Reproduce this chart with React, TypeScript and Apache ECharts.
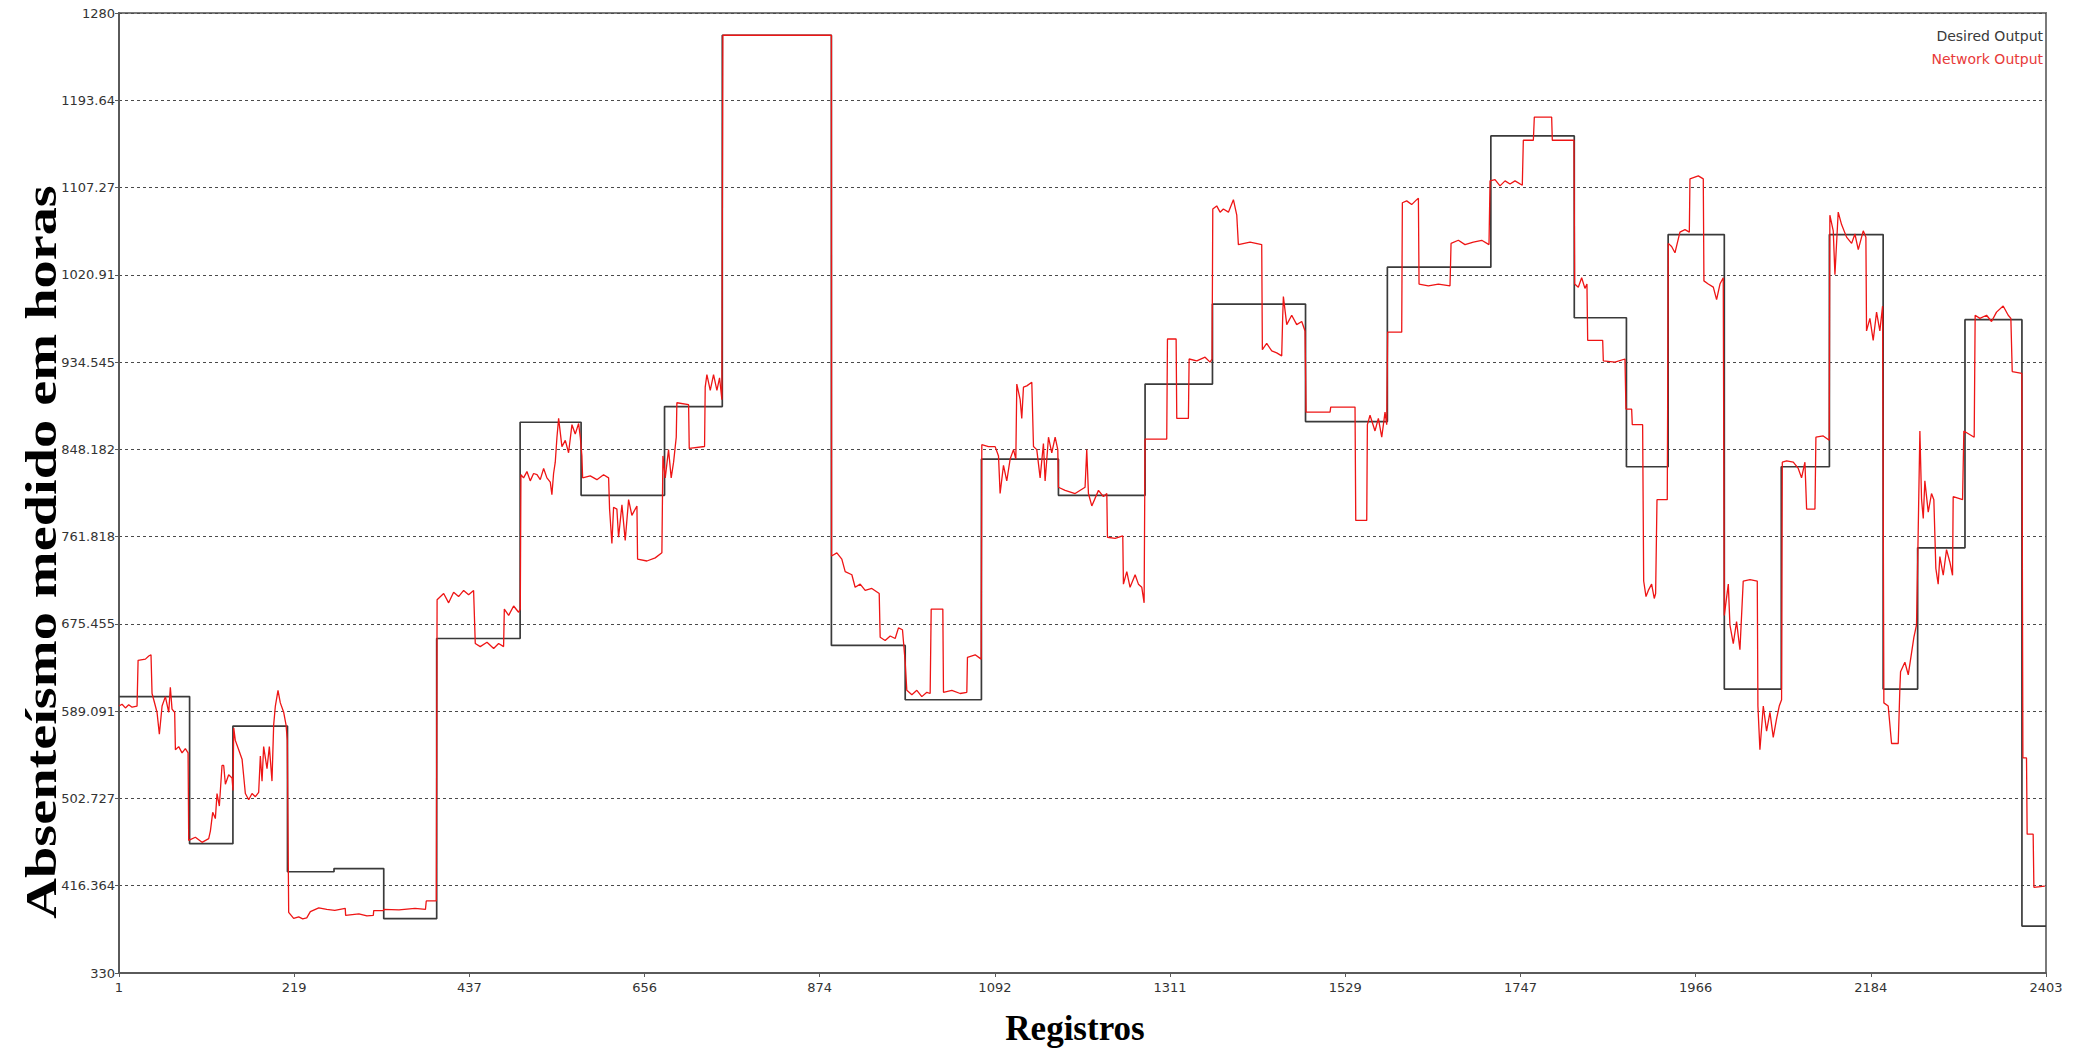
import { useEffect, useRef } from "react";
import * as echarts from "echarts";

// Axis tick labels (Registros on x, hours on y)
const xTickLabels = ["1", "219", "437", "656", "874", "1092", "1311", "1529", "1747", "1966", "2184", "2403"];
const yTickLabels = [
  "330", "416.364", "502.727", "589.091", "675.455", "761.818",
  "848.182", "934.545", "1020.91", "1107.27", "1193.64", "1280",
];
const xRange = [1, 2403];
const yRange = [330, 1280];

// Desired output: each level holds from its record until the next one
const desiredOutput: [number, number][] = [
  [1, 603.5], [89, 458], [143, 574.4], [211, 430.2], [269, 433.3], [331, 383.8],
  [397, 661], [501, 875], [577, 802.7], [681, 890.5], [753, 1258], [889, 654.2],
  [981, 600.4], [1076, 838.6], [1172, 802.7], [1280, 912.8], [1364, 992],
  [1480, 875.7], [1582, 1028.5], [1711, 1158.4], [1815, 978.4], [1880, 831],
  [1932, 1060.7], [2002, 611], [2073, 831], [2133, 1060.7], [2200, 611],
  [2243, 750.7], [2302, 976.5], [2373, 376.4], [2403, 376.4],
];

// Network output trace [record, hours]
const networkOutput: [number, number][] = [
  [1, 594.2], [4.8, 596], [9, 592.3], [13.1, 595.4], [17.3, 593], [23.5, 594.2],
  [24.8, 639.4], [33.9, 640.6], [38.1, 643.7], [40.9, 644.9],
  [42.2, 606.6], [44.3, 600.4], [48.4, 588], [51.3, 566.3], [54.7, 594.2], [58.8, 603.5],
  [63, 588], [65, 612.7], [67.1, 591.1], [70.4, 588],
  [71.3, 550.9], [75.4, 554], [79.6, 547.8], [83.7, 552.1], [87.1, 547.8],
  [87.9, 461.2], [96.2, 464.3], [104.5, 459.3], [112.8, 463], [114.9, 470.4], [117.8, 489],
  [121.1, 482.8], [123.2, 507.6], [126.1, 495.2], [129.4, 535.4], [131.5, 535.4],
  [133.6, 516.8], [137.7, 526.1], [141.9, 523], [143.1, 510.7],
  [144, 572.5], [146, 560.2], [150.2, 550.9], [154.4, 541.6], [158.5, 507.6], [162.7, 501.4],
  [166.8, 507.6], [171, 504.5], [175.1, 508.8], [177.2, 544.7], [179.3, 519.9], [181.3, 554],
  [185.5, 532.3], [188.4, 554], [191.7, 519.9], [193.8, 575.6], [195.9, 594.2], [199.2, 609.6],
  [202.1, 597.3], [206.3, 588], [209.2, 575.6], [210.8, 560.2],
  [212.5, 390], [218.7, 384], [225, 385.5], [230, 383.5], [235, 384.5], [239.5, 390.7],
  [250, 394.5], [260, 393], [270, 392], [283, 394], [283.5, 387], [300, 388.5], [310, 386.5],
  [318, 387], [318.5, 391.7], [330.5, 391.7], [331, 393], [350, 392.5], [370, 394], [383, 393],
  [384, 401.3], [396.5, 401.3],
  [397.5, 699.4], [405.7, 705.6], [411.9, 696.3], [418.1, 706.8], [424.3, 702.5], [430.6, 708.6],
  [436.8, 704.3], [443, 708.6],
  [445.1, 656], [451.3, 653], [459.7, 657.3], [468, 651.1], [474.2, 656], [480.4, 653],
  [481.3, 690.1], [486.7, 683.9], [492.9, 693.2], [499.1, 687], [501.2, 690.1],
  [502, 823.1], [505.3, 820], [509.5, 826.2], [513.6, 817], [517.8, 824.3], [522, 823.1],
  [526.1, 818.2], [530.3, 829.3], [534.4, 820], [538.6, 815.7], [540.6, 803.3], [542.7, 824.3],
  [544.8, 835.5], [546.9, 860.2], [549, 878.8], [553.1, 850.9], [557.3, 857.1], [561.4, 844.8],
  [565.6, 872.6], [569.7, 863.3], [573.9, 873.8], [576, 860.2], [578, 841.7],
  [578.9, 820], [588.4, 821.9], [596.7, 818.2], [605, 823.1], [611.3, 820],
  [612.5, 789.1], [615.4, 755], [617.5, 790.9], [621.6, 789.1], [623.7, 761.2], [627.9, 793.4],
  [632, 758.1], [636.2, 798.4], [640.3, 782.9], [646.6, 792.2],
  [647.4, 739.6], [659, 737.7], [669.4, 740.8], [677.7, 745.8],
  [679, 841.7], [681.9, 820], [686, 847.9], [689.3, 820], [692.3, 835.5], [695.6, 860.2],
  [696.4, 894.3], [711, 892.4], [711.8, 849.1], [730.9, 851],
  [731.7, 909.7], [733.8, 922.1], [738, 906.6], [742.1, 922.1], [746.3, 906.6], [749.6, 919],
  [752.5, 897.3], [753.7, 1258], [889, 1258],
  [889.2, 742.7], [895.8, 745.8], [902, 739.6], [906.2, 727.2], [914.5, 724.1], [918.6, 711.7],
  [924.9, 714.8], [931.1, 708.6], [939.4, 710.5], [948.6, 705.5],
  [949.8, 662.2], [956, 659.1], [962.3, 663.5], [968.5, 661], [972.6, 671.5], [977.6, 669.7],
  [981, 637.5], [983, 609.7], [989.3, 605.3], [995.5, 609.7], [1001.7, 603.5], [1008, 607.8],
  [1012.1, 606.6], [1013.4, 690.1], [1027.9, 690.1], [1028.7, 607.8], [1039.1, 609.7],
  [1049.5, 606.6], [1057.8, 607.8], [1058.6, 642.4], [1068.2, 644.9], [1075.7, 640.6],
  [1076.5, 852.8], [1084.8, 850.9], [1093.1, 850.9], [1097.3, 841.7], [1099.3, 804.5],
  [1103.5, 832.4], [1107.6, 816.9], [1111.8, 838.6], [1116, 847.9], [1118.9, 838.6],
  [1120.1, 912.8], [1124.3, 897.3], [1126.3, 878.8], [1128.4, 909.7], [1132.6, 911], [1138.8, 914.7],
  [1140.9, 851], [1145, 847.9], [1149.2, 820], [1153.3, 854], [1155.4, 816.9], [1159.6, 860.2],
  [1163.7, 844.8], [1167.9, 860.2], [1171.2, 847.9],
  [1172, 810.7], [1180.3, 807.6], [1192.8, 804.5], [1205.2, 810.7], [1207.3, 847.9],
  [1209.4, 804.5], [1213.6, 792.2], [1221.9, 807.6], [1228.1, 801.4], [1232.3, 804.5],
  [1233.1, 761.2], [1242.7, 760], [1252.2, 762.5],
  [1253, 714.8], [1257.2, 727.2], [1261.3, 711.7], [1267.6, 724.1], [1271.7, 714.8],
  [1275.9, 711.7], [1278.8, 696.3],
  [1280, 858.4], [1307, 858.4], [1307.9, 957.4], [1318.7, 957.4], [1319.5, 878.8], [1334, 878.8],
  [1334.9, 937.6], [1344.4, 935.7], [1354.8, 939.4], [1361, 934.5], [1363.5, 937.6],
  [1364.4, 1086], [1369.3, 1089.1], [1373.5, 1082.9], [1377.6, 1086], [1383.9, 1082.9],
  [1390.1, 1095.3], [1394.3, 1079.9],
  [1396.3, 1050.8], [1410.9, 1053.3], [1425.4, 1050.8],
  [1426.2, 946.8], [1431.6, 953], [1437.9, 945.6], [1444.1, 943.7], [1450.3, 940.7],
  [1451.6, 980.9], [1452.4, 999.4], [1456.6, 971.6], [1462.8, 980.9], [1469, 971.6],
  [1475.3, 974.7], [1479.4, 965.4],
  [1480.7, 885], [1510.6, 885], [1511.4, 890], [1541.7, 890], [1542.6, 777.9], [1556.3, 777.9],
  [1557.1, 872.6], [1560.4, 881.9], [1566.6, 866.4], [1570.8, 878.8], [1575, 860.2],
  [1579.1, 885], [1581.2, 872.6],
  [1582.4, 964.2], [1599.9, 964.2], [1600.7, 1092.2], [1606.1, 1094.1], [1612.3, 1090.4],
  [1618.6, 1095.3], [1620.7, 1096.6],
  [1621.5, 1011.8], [1633.1, 1010], [1645.6, 1011.8], [1660.1, 1010],
  [1661.4, 1052], [1670.5, 1055.1], [1678.8, 1050.8], [1689.2, 1053.3], [1699.6, 1055.1],
  [1708.7, 1050.8],
  [1710, 1113.9], [1716.2, 1115.1], [1722.4, 1108.9], [1728.7, 1113.9], [1734.9, 1110.8],
  [1741.1, 1113.9], [1750.2, 1109.6],
  [1751.5, 1154.1], [1764, 1154.1], [1765.2, 1177], [1786.8, 1177], [1787.6, 1154.1],
  [1814.6, 1154.1],
  [1815.5, 1011.8], [1820, 1008.7], [1824.2, 1018], [1828.3, 1007.5], [1830.8, 1011.8],
  [1831.7, 956.1], [1850.4, 956.1], [1851.2, 935.7], [1865.7, 934.5], [1878.2, 937.6],
  [1879.4, 888.1], [1886.5, 888.1], [1887.3, 872.6], [1900.2, 872.6],
  [1901.5, 717.9], [1904.4, 702.5], [1907.3, 708.6], [1911.4, 714.8], [1914.7, 700.6],
  [1916.4, 705.5], [1918.1, 798.4], [1930.9, 798.4],
  [1932.2, 1052], [1936.3, 1048.9], [1940.5, 1042.7], [1946.7, 1063.1], [1953, 1065.6],
  [1958.4, 1063.1], [1959.2, 1115.8], [1969.6, 1118.8], [1975.8, 1115.8],
  [1976.6, 1014.9], [1982, 1011.8], [1988.3, 1008.7], [1992.4, 996.4], [1996.6, 1011.8],
  [2000.7, 1018],
  [2002, 683.9], [2007, 714.8], [2009, 674.6], [2013.2, 656], [2017.3, 677.7], [2021.5, 649.9],
  [2025.6, 717.9], [2034, 719.2], [2043.1, 717.9],
  [2043.9, 594.2], [2046.4, 550.9], [2050.6, 594.2], [2054.7, 569.4], [2058.9, 588],
  [2063, 563.2], [2067.2, 581.8], [2070.5, 594.2], [2073.4, 600.4],
  [2074.3, 835.5], [2079.7, 836.7], [2088, 835.5], [2094.2, 829.3], [2098.3, 820], [2102.5, 835.5],
  [2104.6, 789.1], [2115, 789.1], [2116.2, 860.2], [2125.3, 861.5], [2132.8, 857.1],
  [2133.6, 1079.9], [2137.8, 1064.4], [2139.9, 1021.1], [2144, 1083], [2148.2, 1070.6],
  [2154.4, 1058.2], [2160.7, 1052], [2164.8, 1061.3], [2169, 1045.8], [2175.2, 1064.4],
  [2178.5, 1058.2],
  [2179.3, 965.4], [2183.5, 977.8], [2187.6, 956.1], [2191.8, 984], [2195.9, 965.4],
  [2199.3, 990.1],
  [2200.9, 597.3], [2206.3, 594.2], [2210.5, 557.1], [2218.8, 557.1], [2220.9, 612.7],
  [2221.7, 628.2], [2227.1, 637.5], [2231.3, 625.1], [2235.4, 646.8], [2238.3, 662.2],
  [2241.6, 674.6], [2243.7, 767.4], [2245.8, 866.4], [2247.9, 798.4], [2250, 779.8],
  [2252, 817], [2256.2, 786], [2260.3, 804.5], [2263.2, 798.4],
  [2265.7, 730.3], [2268.6, 714.8], [2270.7, 742.1], [2274.9, 723.6], [2279, 748.9],
  [2283.2, 736.5], [2286.5, 723.6],
  [2287.3, 801.4], [2299, 798.4], [2300.6, 866.4], [2313.5, 860.2],
  [2314.7, 980.9], [2320.6, 977.8], [2328.9, 980.9], [2335.1, 974.7], [2341.3, 984],
  [2349.6, 990.1], [2355.9, 980.9], [2359.2, 977.8],
  [2360.9, 925.2], [2372.9, 923.3],
  [2374.2, 542.8], [2378.7, 542.8], [2379.5, 467.4], [2387, 467.4], [2387.9, 414.8],
  [2401.6, 416],
];

const labelFont = "DejaVu Sans";
const titleFont = "'Liberation Serif', 'Times New Roman', serif";

export default function App() {
  const ref = useRef<HTMLDivElement>(null);

  useEffect(() => {
    const chart = echarts.init(ref.current!, null, { renderer: "svg" });
    const xStep = (xRange[1] - xRange[0]) / (xTickLabels.length - 1);
    const yStep = (yRange[1] - yRange[0]) / (yTickLabels.length - 1);

    chart.setOption({
      animation: false,
      backgroundColor: "#ffffff",
      grid: {
        left: 119,
        right: 40,
        top: 13,
        bottom: 79,
        show: true,
        borderColor: "#7a7a7a",
        borderWidth: 2,
        backgroundColor: "transparent",
      },
      legend: {
        orient: "vertical",
        right: 33,
        top: 24,
        align: "right",
        icon: "none",
        itemWidth: 0,
        itemHeight: 14,
        itemGap: 9,
        textStyle: { fontFamily: labelFont, fontSize: 14 },
        data: [
          { name: "Desired Output", textStyle: { color: "#3a3a3a" } },
          { name: "Network Output", textStyle: { color: "#e83a3a" } },
        ],
      },
      xAxis: {
        type: "value",
        min: xRange[0],
        max: xRange[1],
        interval: xStep,
        axisLine: { show: true, lineStyle: { color: "#5a5a5a", width: 2 } },
        axisTick: { show: true, length: 4, lineStyle: { color: "#5a5a5a" } },
        splitLine: { show: false },
        axisLabel: {
          margin: 8,
          color: "#333",
          fontFamily: labelFont,
          fontSize: 13,
          showMinLabel: true,
          showMaxLabel: true,
          formatter: (v: number) => xTickLabels[Math.round((v - xRange[0]) / xStep)] ?? "",
        },
      },
      yAxis: {
        type: "value",
        min: yRange[0],
        max: yRange[1],
        interval: yStep,
        axisLine: { show: true, lineStyle: { color: "#5a5a5a", width: 2 } },
        axisTick: { show: true, length: 4, lineStyle: { color: "#5a5a5a" } },
        splitLine: {
          show: true,
          lineStyle: { color: "#4a4a4a", width: 1, type: [3, 3] },
        },
        axisLabel: {
          margin: 4,
          color: "#333",
          fontFamily: labelFont,
          fontSize: 13,
          showMinLabel: true,
          showMaxLabel: true,
          formatter: (v: number) => yTickLabels[Math.round((v - yRange[0]) / yStep)] ?? "",
        },
      },
      graphic: [
        {
          type: "text",
          x: 41,
          y: 552,
          rotation: Math.PI / 2,
          scaleX: 1.28,
          style: {
            text: "Absenteísmo medido em horas",
            font: `bold 44px ${titleFont}`,
            fill: "#000",
            align: "center",
            verticalAlign: "middle",
          },
        },
        {
          type: "text",
          x: 1075,
          y: 1028,
          style: {
            text: "Registros",
            font: `bold 35px ${titleFont}`,
            fill: "#000",
            align: "center",
            verticalAlign: "middle",
          },
        },
      ],
      series: [
        {
          name: "Desired Output",
          type: "line",
          step: "end",
          data: desiredOutput,
          showSymbol: false,
          symbol: "none",
          color: "#3a3a3a",
          lineStyle: { color: "#3a3a3a", width: 1.7 },
          z: 2,
        },
        {
          name: "Network Output",
          type: "line",
          data: networkOutput,
          showSymbol: false,
          symbol: "none",
          color: "#ee1515",
          lineStyle: { color: "#ee1515", width: 1.3 },
          z: 3,
        },
      ],
    });

    return () => chart.dispose();
  }, []);

  return (
    <div
      ref={ref}
      style={{ position: "fixed", left: 0, top: 0, width: 2086, height: 1052, background: "#fff" }}
    />
  );
}
